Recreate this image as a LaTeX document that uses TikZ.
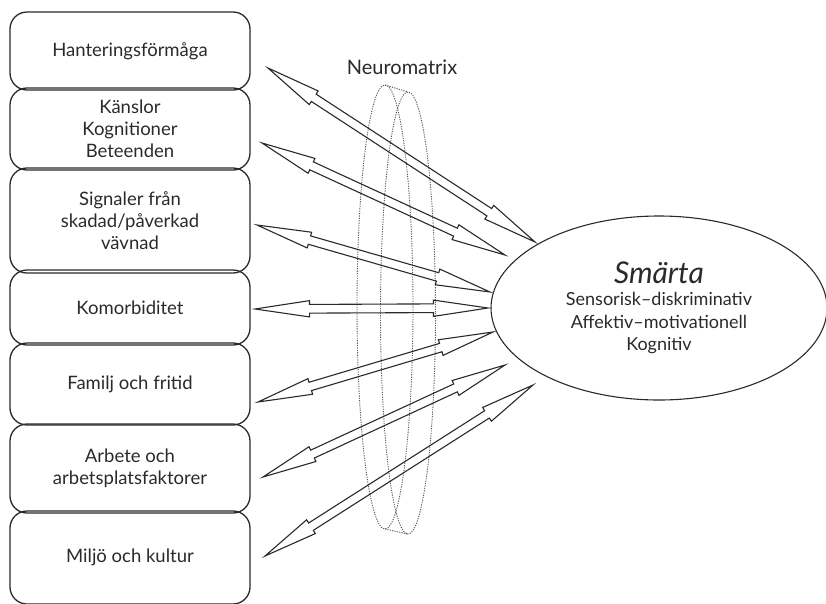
\documentclass[tikz,border=0pt]{standalone}
\usepackage{fontspec}
\setmainfont{Lato}
\usepackage{xcolor}
\usepackage{tikz}
\usetikzlibrary{calc,shapes.geometric,shapes.arrows}

\definecolor{ink}{HTML}{2A2A2A}

\tikzset{
  factor/.style={draw=ink, line width=1.3pt, rounded corners=17pt, minimum width=240pt,
    align=center, text=ink, font=\fontsize{18.5}{22}\selectfont},
  hollow/.style={double arrow, draw=ink, line width=1.1pt, inner sep=3.8pt,
    minimum width=0pt, double arrow head extend=3.8pt, double arrow tip angle=17},
  ring/.style={draw=black!65, line width=0.9pt, dash pattern=on 1.2pt off 1.2pt}
}

% hollow double arrow between two named points
\newcommand\dblarrow[2]{%
  \path let \p1=($(#2)-(#1)$), \n1={atan2(\y1,\x1)}, \n2={veclen(\x1,\y1)} in
    node[hollow, minimum height=\n2, rotate=\n1] at ($(#1)!0.5!(#2)$) {};}

\begin{document}
\begin{tikzpicture}[x=1pt, y=-1pt]
  \useasboundingbox (0,0) rectangle (826,603);

  % left column of factors
  \node[factor, minimum height=78pt] (hant) at (130,51) {Hanteringsförmåga};
  \node[factor, minimum height=82pt] (kansl) at (130,129) {Känslor\\Kognitioner\\Beteenden};
  \node[factor, minimum height=105pt] (sign) at (130,220.5) {Signaler från\\skadad/påverkad\\vävnad};
  \node[factor, minimum height=75pt] (komorb) at (130,307.5) {Komorbiditet};
  \node[factor, minimum height=82pt] (famil) at (130,384) {Familj och fritid};
  \node[factor, minimum height=89pt] (arbete) at (130,468.5) {Arbete och\\arbetsplatsfaktorer};
  \node[factor, minimum height=93pt] (miljo) at (130,557.5) {Miljö och kultur};

  % pain
  \node[draw=ink, line width=1.1pt, ellipse, minimum width=336pt, minimum height=184pt,
    align=center, text=ink, font=\fontsize{18}{22.5}\selectfont] (smarta) at (659,308)
    {{\fontsize{30}{27}\selectfont\itshape Smärta}\\Sensorisk–diskriminativ\\Affektiv–motivationell\\Kognitiv};

  % neuromatrix ring
  \draw[ring] (385,307) ellipse [x radius=28, y radius=222];
  \draw[ring] (408,313) ellipse [x radius=27.5, y radius=221];
  \draw[ring] (385,85) -- (408,92);
  \draw[ring] (385,529) -- (408,534);
  \node[text=ink, font=\fontsize{20}{22}\selectfont] (neuro) at (402,67) {Neuromatrix};

  % arrow ends
  \coordinate (a1) at (268,68);  \coordinate (b1) at (535,242);
  \coordinate (a2) at (262,143); \coordinate (b2) at (505,255);
  \coordinate (a3) at (257,225); \coordinate (b3) at (490,292);
  \coordinate (a4) at (255,309); \coordinate (b4) at (488,308);
  \coordinate (a5) at (258,402); \coordinate (b5) at (493,332);
  \coordinate (a6) at (263,477); \coordinate (b6) at (505,365);
  \coordinate (a7) at (265,556); \coordinate (b7) at (533,385);

  \dblarrow{a1}{b1}
  \dblarrow{a2}{b2}
  \dblarrow{a3}{b3}
  \dblarrow{a4}{b4}
  \dblarrow{a5}{b5}
  \dblarrow{a6}{b6}
  \dblarrow{a7}{b7}
\end{tikzpicture}
\end{document}
